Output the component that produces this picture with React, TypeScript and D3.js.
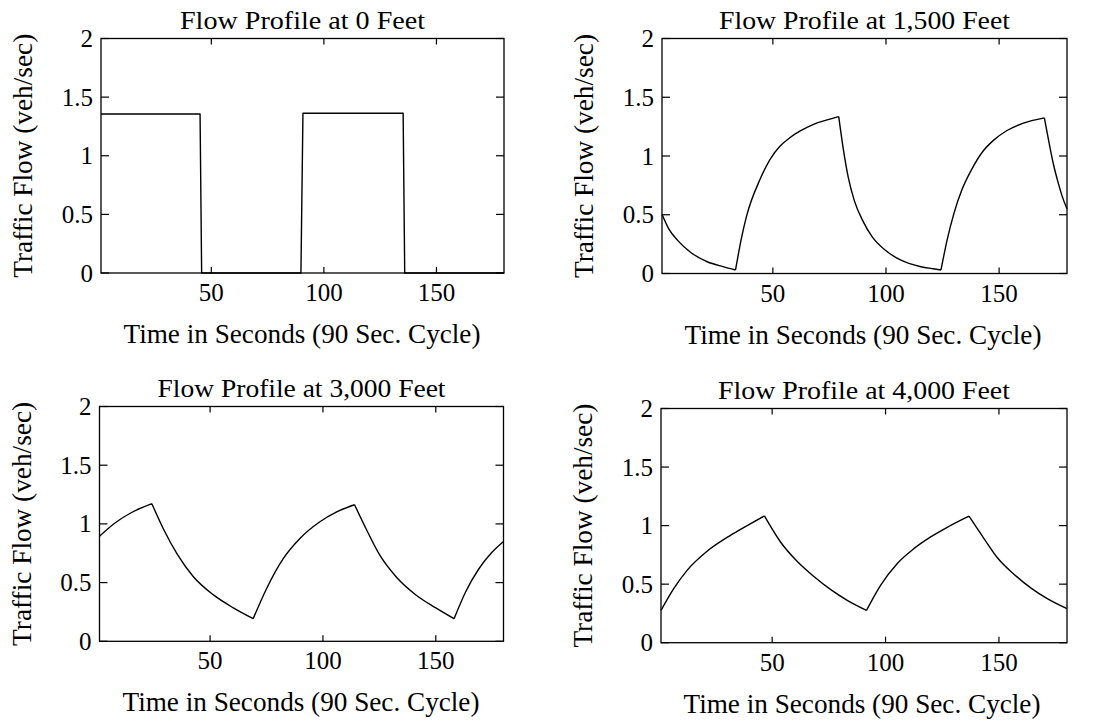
import React from "react";
import * as d3 from "d3";

// ---------- data ----------
const timeTicks = [50, 100, 150];
const flowTicks = [0, 0.5, 1, 1.5, 2];
const flowTickLabels = ["0", "0.5", "1", "1.5", "2"];
const panelTitles = [
  "Flow Profile at 0 Feet",
  "Flow Profile at 1,500 Feet",
  "Flow Profile at 3,000 Feet",
  "Flow Profile at 4,000 Feet",
];
const xLabel = "Time in Seconds (90 Sec. Cycle)";
const yLabel = "Traffic Flow (veh/sec)";

const p1Time = [1, 45, 45.7, 89.8, 90.7, 135.2, 135.9, 180];
const p1Flow = [1.356, 1.356, 0, 0, 1.362, 1.362, 0, 0];

const p2Time = [1, 4, 8, 14, 21, 28, 33.5, 36, 38.4, 44.3, 48.7, 53.2, 57.6, 62.1, 68, 73.9, 79.1, 81.2, 83.3, 86, 89.7, 94, 99.6, 106.6, 115, 120.8, 124.3, 127, 130, 133.5, 137.7, 142.7, 147.6, 153.3, 160.4, 170, 172, 174, 176, 178, 180];
const p2Flow = [0.505, 0.38, 0.28, 0.175, 0.1, 0.058, 0.03, 0.29, 0.49, 0.8, 0.97, 1.085, 1.157, 1.213, 1.27, 1.307, 1.336, 1.05, 0.82, 0.62, 0.45, 0.31, 0.2, 0.113, 0.06, 0.04, 0.03, 0.284, 0.51, 0.71, 0.88, 1.036, 1.135, 1.215, 1.278, 1.325, 1.12, 0.93, 0.78, 0.65, 0.55];

const p3Time = [1, 8, 15, 24.2, 29.5, 35.5, 42.6, 51.5, 60.3, 69.1, 75, 82.4, 89.7, 98.5, 105.9, 114, 119.1, 125, 132.4, 141.2, 150, 158.1, 163.2, 169.1, 175, 180];
const p3Flow = [0.895, 1.01, 1.095, 1.172, 0.95, 0.74, 0.55, 0.395, 0.285, 0.193, 0.448, 0.704, 0.874, 1.016, 1.1, 1.163, 0.959, 0.74, 0.55, 0.395, 0.285, 0.193, 0.42, 0.618, 0.76, 0.85];

const p4Time = [1, 6.6, 12.5, 21.3, 31.6, 39, 46.6, 53.7, 61, 68.4, 75.7, 83.1, 91.6, 97.8, 105.1, 112.5, 119.9, 127.2, 136.8, 143.4, 149.3, 156.6, 164, 171.3, 180];
const p4Flow = [0.276, 0.462, 0.618, 0.781, 0.917, 1.0, 1.083, 0.86, 0.695, 0.565, 0.455, 0.362, 0.276, 0.49, 0.675, 0.803, 0.903, 0.985, 1.08, 0.889, 0.725, 0.585, 0.468, 0.376, 0.29];

// ---------- layout ----------
const W = 1094;
const H = 724;
const panels = [
  { left: 101, right: 504, top: 38.5, bottom: 273, time: p1Time, flow: p1Flow, smooth: false, titleW: 245, xlabW: 357, xlabC: 302 },
  { left: 662, right: 1067, top: 38.5, bottom: 273.5, time: p2Time, flow: p2Flow, smooth: true, titleW: 291, xlabW: 357, xlabC: 863 },
  { left: 99.5, right: 503.5, top: 406.5, bottom: 641.3, time: p3Time, flow: p3Flow, smooth: true, titleW: 288, xlabW: 357, xlabC: 301 },
  { left: 661, right: 1067, top: 408.5, bottom: 642.7, time: p4Time, flow: p4Flow, smooth: true, titleW: 292, xlabW: 357, xlabC: 862 },
];

const FONT = "'Liberation Serif', 'Times New Roman', Times, serif";

type Pt = { t: number; v: number };

function splitMonotone(pts: Pt[]): Pt[][] {
  const segs: Pt[][] = [];
  let cur: Pt[] = [pts[0]];
  let dir = 0;
  for (let i = 1; i < pts.length; i++) {
    const d = Math.sign(pts[i].v - pts[i - 1].v);
    if (dir !== 0 && d !== 0 && d !== dir) {
      segs.push(cur);
      cur = [pts[i - 1]];
    }
    if (d !== 0) dir = d;
    cur.push(pts[i]);
  }
  segs.push(cur);
  return segs;
}

function Panel({ p, title }: { p: any; title: string }) {
  const x = d3.scaleLinear().domain([1, 180]).range([p.left, p.right]);
  const y = d3.scaleLinear().domain([0, 2]).range([p.bottom, p.top]);
  const pts: Pt[] = p.time.map((t: number, i: number) => ({ t, v: p.flow[i] }));
  let d = "";
  if (p.smooth) {
    const line = d3.line<Pt>().x((q) => x(q.t)).y((q) => y(q.v)).curve(d3.curveMonotoneX);
    d = splitMonotone(pts).map((s) => line(s) || "").join("");
  } else {
    const line = d3.line<Pt>().x((q) => x(q.t)).y((q) => y(q.v));
    d = line(pts) || "";
  }
  const cx = (p.left + p.right) / 2;
  const cy = (p.top + p.bottom) / 2;
  const ytl = 8;
  const xtl = 6;
  return (
    <g>
      <rect x={p.left} y={p.top} width={p.right - p.left} height={p.bottom - p.top} fill="none" stroke="#000" strokeWidth={1.3} />
      {timeTicks.map((t) => (
        <g key={"xt" + t}>
          <line x1={x(t)} x2={x(t)} y1={p.bottom} y2={p.bottom - xtl} stroke="#000" strokeWidth={1.2} />
          <line x1={x(t)} x2={x(t)} y1={p.top} y2={p.top + xtl} stroke="#000" strokeWidth={1.2} />
          <text x={x(t)} y={p.bottom + 28} textAnchor="middle" fontFamily={FONT} fontSize={25} fill="#000">
            {t}
          </text>
        </g>
      ))}
      {flowTicks.map((v, i) => (
        <g key={"yt" + v}>
          <line x1={p.left} x2={p.left + ytl} y1={y(v)} y2={y(v)} stroke="#000" strokeWidth={1.2} />
          <line x1={p.right} x2={p.right - ytl} y1={y(v)} y2={y(v)} stroke="#000" strokeWidth={1.2} />
          <text x={p.left - 8} y={y(v) + 8.5} textAnchor="end" fontFamily={FONT} fontSize={25} fill="#000">
            {flowTickLabels[i]}
          </text>
        </g>
      ))}
      <path d={d} fill="none" stroke="#000" strokeWidth={1.4} strokeLinejoin="round" />
      <text x={cx} y={p.top - 10} textAnchor="middle" fontFamily={FONT} fontSize={25} fill="#000" textLength={p.titleW} lengthAdjust="spacingAndGlyphs">
        {title}
      </text>
      <text x={p.xlabC} y={p.bottom + 70} textAnchor="middle" fontFamily={FONT} fontSize={27} fill="#000" textLength={p.xlabW} lengthAdjust="spacingAndGlyphs">
        {xLabel}
      </text>
      <text transform={`translate(${p.left - 69},${cy}) rotate(-90)`} textAnchor="middle" fontFamily={FONT} fontSize={27} fill="#000" textLength={244} lengthAdjust="spacingAndGlyphs">
        {yLabel}
      </text>
    </g>
  );
}

export default function App() {
  return (
    <svg width={W} height={H} style={{ position: "absolute", left: 0, top: 0, background: "#fff" }}>
      <rect x={0} y={0} width={W} height={H} fill="#fff" />
      {panels.map((p, i) => (
        <Panel key={i} p={p} title={panelTitles[i]} />
      ))}
    </svg>
  );
}
